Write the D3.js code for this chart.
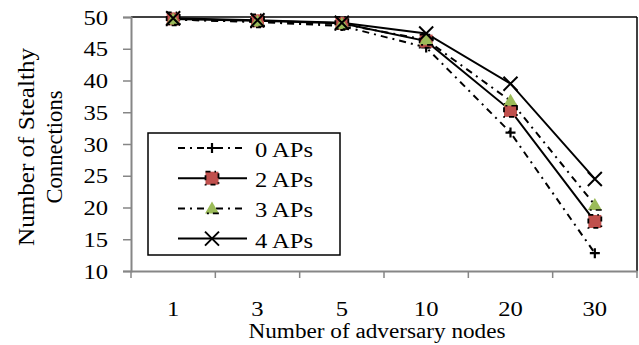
<!DOCTYPE html>
<html><head><meta charset="utf-8">
<script src="https://cdn.jsdelivr.net/npm/d3@7"></script>
<style>body{margin:0;background:#fff}svg{display:block}text{font-family:"Liberation Serif","Times New Roman",serif;fill:#000}</style>
</head><body><svg id="c" width="639" height="345"></svg>
<script>
const categories = ["1","3","5","10","20","30"];
const seriesNames = ["0 APs","2 APs","3 APs","4 APs"];
const ap0 = [49.6, 49.2, 48.6, 45.2, 31.8, 12.8];
const ap2 = [49.7, 49.4, 49.0, 46.2, 35.3, 17.8];
const ap3 = [49.6, 49.3, 48.9, 46.4, 36.8, 20.4];
const ap4 = [49.8, 49.5, 49.1, 47.4, 39.5, 24.5];
const yTicks = [10,15,20,25,30,35,40,45,50];

const series = [
  {name: seriesNames[0], values: ap0, dash: "7,5,2,5", marker: "plus"},
  {name: seriesNames[1], values: ap2, dash: null, marker: "square"},
  {name: seriesNames[2], values: ap3, dash: "7,5,2,5", marker: "triangle"},
  {name: seriesNames[3], values: ap4, dash: null, marker: "x"}
];

const svg = d3.select("#c");
const L = 131, R = 637, T = 17, B = 271;
const x = d3.scaleBand().domain(categories).range([L, R]);
const y = d3.scaleLinear().domain([10, 50]).range([B, T]);
const grey = "#868686";
const FF = "Liberation Serif";
const digitW = 12.3;

// plot border top & right
svg.append("line").attr("x1", L).attr("x2", R).attr("y1", T).attr("y2", T).attr("stroke", "#000").attr("stroke-width", 1.5);
svg.append("line").attr("x1", R).attr("x2", R).attr("y1", T).attr("y2", B).attr("stroke", "#000").attr("stroke-width", 1.5);

// y axis
const ya = svg.append("g").attr("transform", `translate(${L},0)`)
  .call(d3.axisLeft(y).tickValues(yTicks).tickSize(8).tickPadding(15).tickFormat(d3.format("d")));
ya.select(".domain").attr("stroke", grey).attr("stroke-width", 2);
ya.selectAll(".tick line").attr("stroke", grey).attr("stroke-width", 1.5);
ya.selectAll("text").style("font-size", "21px").attr("font-family", FF).attr("dy", "0.34em")
  .attr("textLength", d => String(d).length * digitW).attr("lengthAdjust", "spacingAndGlyphs");

// x axis
const xa = svg.append("g").attr("transform", `translate(0,${B})`)
  .call(d3.axisBottom(x).tickSize(0).tickPadding(32));
xa.select(".domain").attr("stroke", grey).attr("stroke-width", 2);
xa.selectAll("text").style("font-size", "20px").attr("font-family", FF).attr("dy", null).attr("y", 45)
  .attr("textLength", d => String(d).length * digitW).attr("lengthAdjust", "spacingAndGlyphs");
// boundary ticks
const bounds = categories.map(c => x(c)).concat([R]);
svg.append("g").selectAll("line").data(bounds).join("line")
  .attr("x1", d => d).attr("x2", d => d).attr("y1", B).attr("y2", B + 7)
  .attr("stroke", grey).attr("stroke-width", 1.5);

// axis titles
svg.append("text").attr("x", 377).attr("y", 338).attr("text-anchor", "middle").style("font-size", "20px")
  .attr("textLength", 257).attr("lengthAdjust", "spacingAndGlyphs").text("Number of adversary nodes");
const yt = svg.append("text").attr("transform", "translate(0,147) rotate(-90)").attr("text-anchor", "middle").style("font-size", "24px");
yt.append("tspan").attr("x", 0).attr("y", 34).attr("textLength", 198).attr("lengthAdjust", "spacingAndGlyphs").text("Number of Stealthy");
yt.append("tspan").attr("x", 0).attr("y", 62).attr("textLength", 113).attr("lengthAdjust", "spacingAndGlyphs").text("Connections");

function drawMarker(g, type, cx, cy) {
  if (type === "plus") {
    g.append("path").attr("d", `M${cx-5},${cy}H${cx+5}M${cx},${cy-5}V${cy+5}`).attr("stroke", "#000").attr("stroke-width", 2.2).attr("fill", "none");
  } else if (type === "square") {
    g.append("rect").attr("x", cx-6.5).attr("y", cy-6.5).attr("width", 13).attr("height", 13)
      .attr("fill", "#C0504D").attr("stroke", "#000").attr("stroke-width", 1.8).attr("stroke-dasharray", "5,4,1.5,4");
  } else if (type === "triangle") {
    g.append("path").attr("d", `M${cx},${cy-7}L${cx+7},${cy+5}L${cx-7},${cy+5}Z`)
      .attr("fill", "#9BBB59").attr("stroke", "#000").attr("stroke-width", 1.6).attr("stroke-dasharray", "0,14,6,4,2,40");
  } else {
    g.append("path").attr("d", `M${cx-7},${cy-7}L${cx+7},${cy+7}M${cx+7},${cy-7}L${cx-7},${cy+7}`).attr("stroke", "#000").attr("stroke-width", 2).attr("fill", "none");
  }
}

const line = d3.line().x((d, i) => x(categories[i]) + x.bandwidth() / 2).y(d => y(d));
series.forEach(s => {
  svg.append("path").datum(s.values).attr("d", line).attr("fill", "none").attr("stroke", "#000").attr("stroke-width", 2)
    .attr("stroke-dasharray", s.dash);
});
series.forEach(s => {
  const g = svg.append("g");
  s.values.forEach((v, i) => drawMarker(g, s.marker, x(categories[i]) + x.bandwidth() / 2, y(v)));
});

// legend
const lg = svg.append("g");
lg.append("rect").attr("x", 148).attr("y", 133).attr("width", 192).attr("height", 122).attr("fill", "#fff").attr("stroke", "#000").attr("stroke-width", 1.5);
series.forEach((s, i) => {
  const cy = 148 + i * 30.2;
  lg.append("line").attr("x1", 178).attr("x2", 247).attr("y1", cy).attr("y2", cy).attr("stroke", "#000").attr("stroke-width", 2).attr("stroke-dasharray", s.dash);
  drawMarker(lg, s.marker, 212, cy);
  lg.append("text").attr("x", 255).attr("y", cy + 9).style("font-size", "21px")
    .attr("textLength", 58).attr("lengthAdjust", "spacingAndGlyphs").text(s.name);
});
</script></body></html>
